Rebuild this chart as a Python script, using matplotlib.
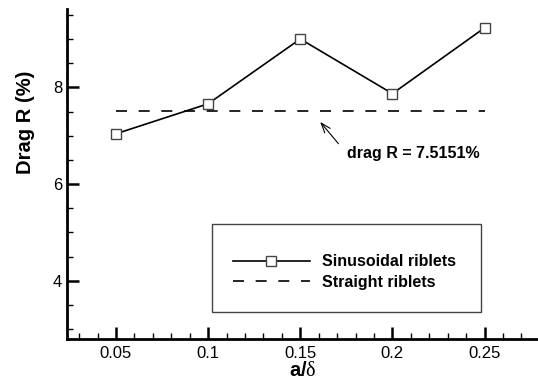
import numpy as np
import matplotlib
matplotlib.use('Agg')
import matplotlib.pyplot as plt
from matplotlib.ticker import MultipleLocator
from matplotlib.patches import Rectangle

plt.rcParams['font.family'] = ['Liberation Sans', 'DejaVu Sans']
plt.rcParams['mathtext.fontset'] = 'custom'
plt.rcParams['mathtext.rm'] = 'Liberation Serif'
plt.rcParams['mathtext.bf'] = 'Liberation Sans:bold'

# a/delta values and drag reduction (%)
a_delta = [0.05, 0.10, 0.15, 0.20, 0.25]
drag_sin = [7.04, 7.66, 9.00, 7.87, 9.23]
drag_straight = 7.5151

W, H = 538, 379
fig = plt.figure(figsize=(W / 100, H / 100), dpi=100)
ax = fig.add_axes([0.1245, 0.1047, 0.8755, 0.8716])

ax.plot(a_delta, drag_sin, color='black', lw=1.2, marker='s', ms=7.5,
        mfc='white', mec='#444444', mew=1.0, label='Sinusoidal riblets')
ax.plot([a_delta[0], a_delta[-1]], [drag_straight, drag_straight],
        color='black', lw=1.2, dashes=(6.6, 7.0), label='Straight riblets')

ax.annotate('', xy=(0.1598, 7.33), xytext=(0.1717, 6.79),
            arrowprops=dict(arrowstyle='->,head_length=0.7,head_width=0.25',
                            color='black', lw=0.8))
ax.text(0.1755, 6.64, 'drag R = %.4f%%' % drag_straight, fontsize=11.5,
        fontweight='bold', ha='left', va='center')

ax.set_xlim(0.0234, 0.279)
ax.set_ylim(2.79, 9.62)
ax.xaxis.set_minor_locator(MultipleLocator(0.01))
ax.yaxis.set_minor_locator(MultipleLocator(0.5))
ax.set_xticks(a_delta)
ax.set_xticklabels(['0.05', '0.1', '0.15', '0.2', '0.25'])
ax.set_yticks([4, 6, 8])
ax.set_yticklabels(['4', '6', '8'])

for s in ['top', 'right']:
    ax.spines[s].set_visible(False)
for s in ['left', 'bottom']:
    ax.spines[s].set_linewidth(2.0)
ax.tick_params(which='major', direction='in', length=8.5, width=1.8,
               labelsize=12, pad=5)
ax.tick_params(which='minor', direction='in', length=4.5, width=1.0)
ax.tick_params(axis='y', which='major', pad=3.5)

ax.set_xlabel(r'$\mathbf{a/}\mathrm{\delta}$', fontsize=14.5, labelpad=0)
ax.set_ylabel('Drag R (%)', fontsize=14.5, fontweight='bold')
ax.yaxis.set_label_coords(-0.068, 0.658)

# legend entries without frame, box drawn separately
leg = ax.legend(loc='center left', bbox_to_anchor=(233 / W, 1 - 272 / H),
                bbox_transform=fig.transFigure,
                prop=dict(weight='bold', size=11.5), frameon=False,
                handlelength=4.8, handletextpad=0.8, borderpad=0,
                labelspacing=0.33, borderaxespad=0)
box = Rectangle((212 / W, 1 - 312 / H), (481 - 212) / W, (312 - 224) / H,
                transform=fig.transFigure, fill=False, edgecolor='#444444',
                lw=1.0, zorder=5)
fig.patches.append(box)

fig.savefig('out.png', dpi=100)
